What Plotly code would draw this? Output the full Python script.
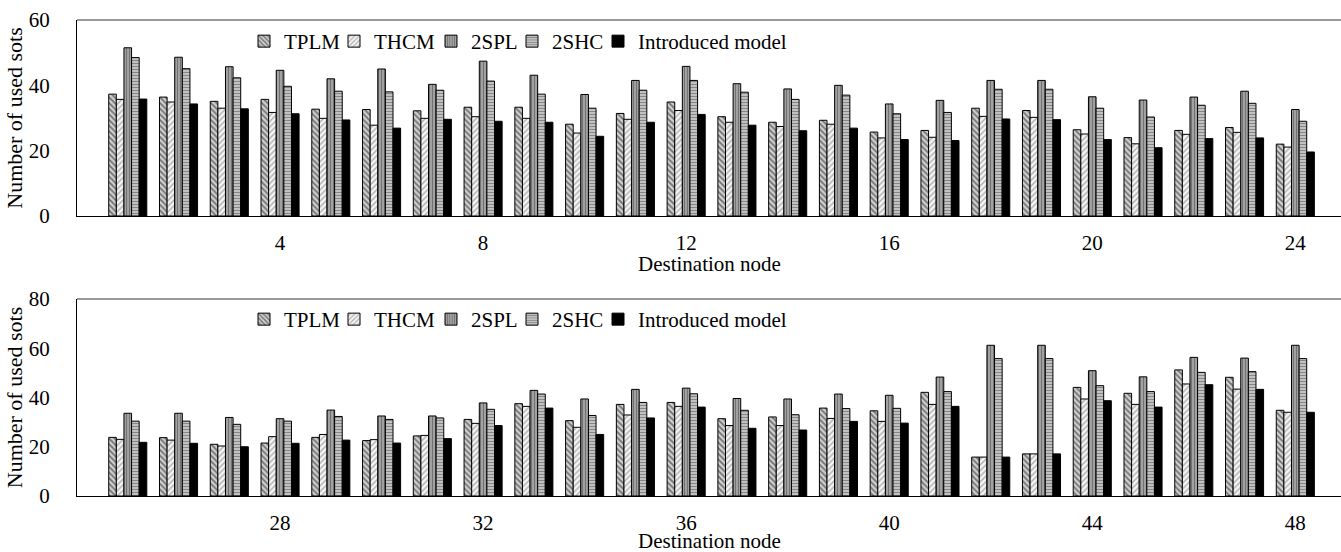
import plotly.graph_objects as go

nodes_top = list(range(1, 25))
nodes_bot = list(range(25, 49))

tplm_top = [37.3, 36.4, 35.1, 35.7, 32.7, 32.6, 32.2, 33.3, 33.3, 28.1, 31.4, 34.9,
            30.4, 28.7, 29.3, 25.7, 26.2, 33.0, 32.3, 26.4, 24.0, 26.2, 27.1, 22.0]
thcm_top = [35.7, 34.9, 33.0, 31.7, 29.9, 27.8, 29.9, 30.4, 29.9, 25.4, 29.6, 32.3,
            28.7, 27.4, 28.1, 23.9, 24.1, 30.5, 30.2, 25.1, 22.1, 25.0, 25.6, 21.1]
spl_top = [51.5, 48.6, 45.7, 44.6, 42.0, 45.0, 40.3, 47.4, 43.1, 37.2, 41.5, 45.8,
           40.5, 38.9, 40.0, 34.3, 35.4, 41.5, 41.5, 36.5, 35.5, 36.4, 38.2, 32.6]
shc_top = [48.5, 45.1, 42.3, 39.7, 38.2, 38.0, 38.5, 41.3, 37.3, 33.0, 38.5, 41.5,
           37.9, 35.7, 37.0, 31.3, 31.7, 38.8, 38.8, 33.0, 30.3, 33.9, 34.5, 29.0]
intro_top = [35.8, 34.3, 32.8, 31.3, 29.4, 26.9, 29.6, 29.0, 28.7, 24.4, 28.7, 31.1,
             27.8, 26.1, 26.9, 23.4, 23.1, 29.7, 29.5, 23.4, 20.9, 23.7, 23.9, 19.6]

tplm_bot = [23.8, 23.7, 21.0, 21.5, 23.8, 22.5, 24.4, 31.1, 37.5, 30.6, 37.2, 38.0,
            31.4, 32.1, 35.7, 34.6, 42.1, 15.8, 17.1, 44.1, 41.7, 51.2, 48.2, 34.8]
thcm_bot = [23.0, 22.7, 20.3, 24.1, 25.0, 22.9, 24.6, 29.5, 36.4, 27.9, 32.9, 36.4,
            28.6, 28.6, 31.5, 30.3, 37.2, 15.8, 17.1, 39.4, 37.2, 45.5, 43.4, 34.0]
spl_bot = [33.6, 33.6, 31.9, 31.4, 34.9, 32.5, 32.5, 37.8, 42.9, 39.4, 43.3, 43.8,
           39.6, 39.4, 41.4, 40.9, 48.3, 61.2, 61.2, 50.9, 48.4, 56.3, 56.0, 61.2]
shc_bot = [30.4, 30.4, 29.1, 30.4, 32.3, 31.1, 31.7, 35.2, 41.4, 32.7, 38.0, 41.5,
           34.8, 33.0, 35.5, 35.6, 42.4, 55.8, 55.8, 44.8, 42.4, 50.2, 50.5, 55.8]
intro_bot = [21.8, 21.4, 20.0, 21.4, 22.7, 21.5, 23.3, 28.6, 35.7, 25.0, 31.7, 36.1,
             27.5, 26.8, 30.3, 29.6, 36.4, 15.8, 17.1, 38.7, 36.1, 45.2, 43.3, 34.0]

names = ["TPLM", "THCM", "2SPL", "2SHC", "Introduced model"]
top_series = [tplm_top, thcm_top, spl_top, shc_top, intro_top]
bot_series = [tplm_bot, thcm_bot, spl_bot, shc_bot, intro_bot]

patterns = [
    dict(shape="\\", fgcolor="#111111", bgcolor="#d0d0d0", size=4, solidity=0.45),
    dict(shape="/", fgcolor="#666666", bgcolor="#f4f4f4", size=4, solidity=0.35),
    dict(shape="|", fgcolor="#333333", bgcolor="#b0b0b0", size=3, solidity=0.5),
    dict(shape="-", fgcolor="#3a3a3a", bgcolor="#d4d4d4", size=3, solidity=0.5),
    dict(shape="", fgcolor="#000000", bgcolor="#000000"),
]
colors = ["#d0d0d0", "#f4f4f4", "#b0b0b0", "#d4d4d4", "#000000"]

FONT = "Liberation Serif"

W, H = 1341, 552
L = 77
PW = W - L
top_dom = [1 - 216 / H, 1 - 20 / H]
bot_dom = [1 - 496 / H, 1 - 299 / H]

# legend symbol left edges (screen px) for each entry
leg_sym_x = [260, 350, 447, 528, 614]

fig = go.Figure()
for i, nm in enumerate(names):
    fig.add_trace(go.Bar(
        x=nodes_top, y=top_series[i], name=nm, xaxis="x", yaxis="y",
        marker=dict(color=colors[i], line=dict(color="black", width=1), pattern=patterns[i]),
        legend="legend" if i == 0 else f"legend{i + 1}", showlegend=True,
    ))
for i, nm in enumerate(names):
    fig.add_trace(go.Bar(
        x=nodes_bot, y=bot_series[i], name=nm, xaxis="x2", yaxis="y2",
        marker=dict(color=colors[i], line=dict(color="black", width=1), pattern=patterns[i]),
        legend=f"legend{i + 6}", showlegend=True,
    ))

axis_common = dict(showgrid=False, zeroline=False, showline=True, linecolor="black",
                   linewidth=1, ticks="", tickfont=dict(family=FONT, size=21, color="black"),
                   automargin=False)

legends = {}
for k in range(10):
    i = k % 5
    ytop = 21 if k < 5 else 299
    key = "legend" if k == 0 else f"legend{k + 1}"
    legends[key] = dict(orientation="h", x=(leg_sym_x[i] - 16 - L) / PW, y=1 - ytop / H,
                        xanchor="left", yanchor="top", bgcolor="rgba(0,0,0,0)",
                        font=dict(family=FONT, size=21, color="black"), itemwidth=30,
                        visible=True)

fig.update_layout(
    width=W, height=H,
    showlegend=True,
    margin=dict(l=L, r=0, t=0, b=0, autoexpand=False),
    paper_bgcolor="white", plot_bgcolor="white",
    barmode="group", bargap=0.25, bargroupgap=0.0,
    font=dict(family=FONT, size=21, color="black"),
    xaxis=dict(**axis_common, domain=[0, 1], anchor="y", range=[0, 24.9],
               tickmode="array", tickvals=[4, 8, 12, 16, 20, 24], ticklabelstandoff=8),
    yaxis=dict(**axis_common, domain=top_dom, anchor="x", range=[0, 60],
               tickmode="array", tickvals=[0, 20, 40, 60], ticklabelstandoff=22,
               title=dict(text="Number of used sots", font=dict(family=FONT, size=22), standoff=0)),
    xaxis2=dict(**axis_common, domain=[0, 1], anchor="y2", range=[24, 48.9],
                tickmode="array", tickvals=[28, 32, 36, 40, 44, 48], ticklabelstandoff=8),
    yaxis2=dict(**axis_common, domain=bot_dom, anchor="x2", range=[0, 80],
                tickmode="array", tickvals=[0, 20, 40, 60, 80], ticklabelstandoff=22,
                title=dict(text="Number of used sots", font=dict(family=FONT, size=22), standoff=0)),
    annotations=[
        dict(text="Destination node", xref="paper", yref="paper", x=0.5, y=1 - 264 / H,
             xanchor="center", yanchor="middle", showarrow=False,
             font=dict(family=FONT, size=21, color="black")),
        dict(text="Destination node", xref="paper", yref="paper", x=0.5, y=1 - 541 / H,
             xanchor="center", yanchor="middle", showarrow=False,
             font=dict(family=FONT, size=21, color="black")),
    ],
    shapes=[
        dict(type="line", xref="paper", yref="paper", x0=0, x1=1, y0=top_dom[1], y1=top_dom[1],
             line=dict(color="#777777", width=1.5)),
        dict(type="line", xref="paper", yref="paper", x0=0, x1=1, y0=bot_dom[1], y1=bot_dom[1],
             line=dict(color="#777777", width=1.5)),
    ],
    **legends,
)

fig.write_html("out.html", config={"displayModeBar": False},
               post_script="document.body.style.margin='0';")
